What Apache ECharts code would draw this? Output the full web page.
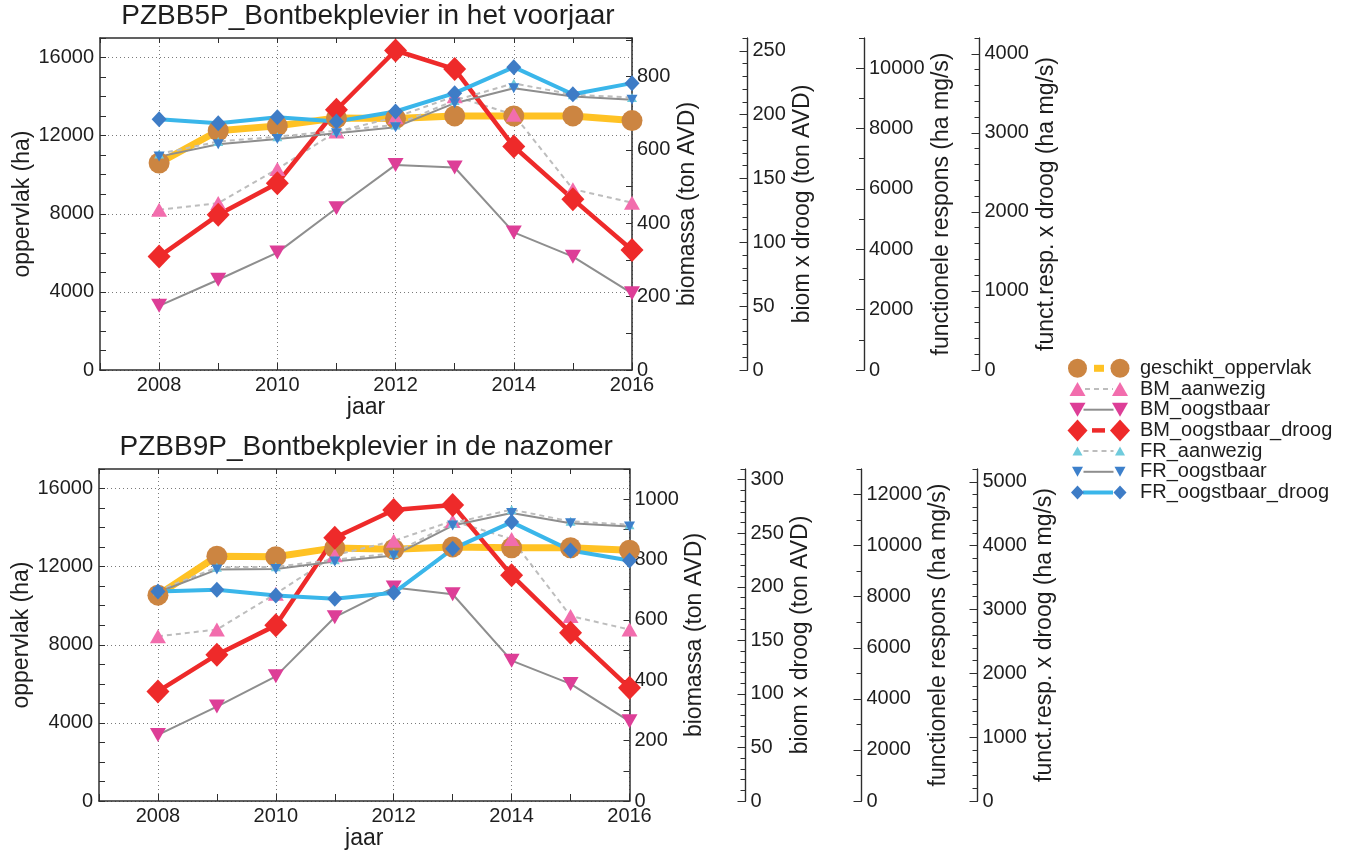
<!DOCTYPE html>
<html>
<head>
<meta charset="utf-8">
<title>Bontbekplevier</title>
<script src="https://cdn.jsdelivr.net/npm/echarts@6/dist/echarts.min.js"></script>
<style>
  html, body { margin: 0; padding: 0; background: #ffffff; }
  #chart { width: 1354px; height: 854px; }
</style>
</head>
<body>
<div id="chart"></div>
<script>
// ---- data ----------------------------------------------------------------
const years = [2008, 2009, 2010, 2011, 2012, 2013, 2014, 2015, 2016];
const seriesNames = ['geschikt_oppervlak', 'BM_aanwezig', 'BM_oogstbaar', 'BM_oogstbaar_droog',
                     'FR_aanwezig', 'FR_oogstbaar', 'FR_oogstbaar_droog'];
const panelTitles = ['PZBB5P_Bontbekplevier in het voorjaar', 'PZBB9P_Bontbekplevier in de nazomer'];

// voorjaar: oppervlak (ha), biomassa (ton AVD), biom x droog (ton AVD),
// functionele respons (ha mg/s), funct.resp. x droog (ha mg/s)
const vjGeschikt     = [10600, 12250, 12500, 12900, 12880, 13010, 13010, 13010, 12770];
const vjBMAanwezig   = [437, 455, 548, 650, 689, 746, 696, 493, 456];
const vjBMOogstbaar  = [175, 246, 320, 441, 559, 552, 375, 309, 209];
const vjBMDroog      = [88.8, 121.5, 146.3, 203.8, 250.2, 235.7, 175.0, 133.8, 94.0];
const vjFRAanwezig   = [7160, 7570, 7730, 7930, 8120, 8930, 9500, 9120, 9030];
const vjFROogstbaar  = [7070, 7480, 7650, 7845, 8045, 8840, 9337, 9060, 8950];
const vjFRDroog      = [3173, 3122, 3198, 3143, 3270, 3502, 3831, 3489, 3629];

// nazomer
const nzGeschikt     = [10540, 12530, 12510, 12960, 12890, 13010, 12970, 12970, 12840];
const nzBMAanwezig   = [546, 568, 687, 814, 862, 928, 868, 613, 568];
const nzBMOogstbaar  = [219, 313, 413, 609, 707, 685, 465, 388, 264];
const nzBMDroog      = [102.3, 136.6, 164.0, 245.8, 271.7, 276.3, 210.9, 157.2, 105.7];
const nzFRAanwezig   = [8230, 9150, 9170, 9450, 9700, 10880, 11410, 10950, 10820];
const nzFROogstbaar  = [8173, 9062, 9085, 9375, 9610, 10785, 11278, 10875, 10746];
const nzFRDroog      = [3282, 3307, 3219, 3166, 3260, 3950, 4368, 3925, 3768];

const panelData = [
  [vjGeschikt, vjBMAanwezig, vjBMOogstbaar, vjBMDroog, vjFRAanwezig, vjFROogstbaar, vjFRDroog],
  [nzGeschikt, nzBMAanwezig, nzBMOogstbaar, nzBMDroog, nzFRAanwezig, nzFROogstbaar, nzFRDroog]
];

// ---- styling ---------------------------------------------------------------
const FONT = "'Liberation Sans', Arial, Helvetica, sans-serif";
const INK = '#1e1e1e';
const AXIS = '#2e2e2e';
const GRIDDOT = '#7a7a7a';
const CLEAR = 'rgba(0,0,0,0)';

// marker / line look of every series (legend order)
const looks = [
  { symbol: 'circle',   size: 21,       rotate: 0,   mark: '#CC8541', line: '#FFC224', width: 7,   dash: 'solid', leg: [19, 16.5, 26.5] },
  { symbol: 'triangle', size: [16, 14], rotate: 0,   mark: '#F26DAD', line: '#BDBDBD', width: 2,   dash: [5, 4],  leg: [[16, 14], 7.5, 35.5] },
  { symbol: 'triangle', size: [16, 14], rotate: 180, mark: '#DD3E97', line: '#8E8E8E', width: 2,   dash: 'solid', leg: [[16, 14], 6, 36] },
  { symbol: 'diamond',  size: [23, 24], rotate: 0,   mark: '#EE2A2A', line: '#EE2A2A', width: 4.5, dash: 'solid', leg: [[20, 22], 14.5, 27.5] },
  { symbol: 'triangle', size: [10, 9],  rotate: 0,   mark: '#6FCBDC', line: '#BDBDBD', width: 2,   dash: [5, 4],  leg: [[10, 9], 6, 36] },
  { symbol: 'triangle', size: [11, 10], rotate: 180, mark: '#3D80CB', line: '#8E8E8E', width: 2,   dash: 'solid', leg: [[11, 10], 6, 36] },
  { symbol: 'diamond',  size: [15, 16], rotate: 0,   mark: '#3E7CC6', line: '#3AB6EA', width: 4,   dash: 'solid', leg: [[13, 14], 5.5, 35.5] }
];

// panel geometry and the top of every value scale
const panels = [
  { top: 38,  left: 100, width: 532,   titleTop: 2,   offs: [115.5, 232, 347.5],
    max: { opp: 17000, bio: 905,  bxd: 260, fr: 11000, frd: 4200 } },
  { top: 469, left: 99,  width: 530.5, titleTop: 433, offs: [116, 232, 348],
    max: { opp: 17000, bio: 1100, bxd: 310, fr: 13000, frd: 5200 } }
];
const PLOT_H = 332;

const labelStyle = { fontSize: 20, color: INK, fontFamily: FONT };
const nameStyle = { fontSize: 23, color: INK, fontFamily: FONT };
const dotted = [1, 3];

function multipleOf(step) {
  return v => (Math.abs(v / step - Math.round(v / step)) < 1e-6 ? String(Math.round(v)) : '');
}

// one offset axis drawn as a pair: short minor ticks + long labelled major ticks
function axisPair(grid, offset, max, major, minor, name, nameGap) {
  const base = {
    gridIndex: grid, type: 'value', position: 'right', offset: offset, min: 0, max: max,
    axisLine: { show: true, onZero: false, lineStyle: { color: AXIS, width: 1.2 } },
    splitLine: { show: false }
  };
  return [
    Object.assign({}, base, {
      interval: minor,
      axisTick: { show: true, inside: true, length: 5, lineStyle: { color: AXIS, width: 1 } },
      axisLabel: { show: false }
    }),
    Object.assign({}, base, {
      interval: major,
      axisTick: { show: true, inside: true, length: 8, lineStyle: { color: AXIS, width: 1 } },
      axisLabel: Object.assign({ show: true, showMaxLabel: false, margin: 5, formatter: multipleOf(major) }, labelStyle),
      name: name, nameLocation: 'middle', nameGap: nameGap, nameTextStyle: nameStyle
    })
  ];
}

const grids = [], xAxes = [], yAxes = [], series = [], titles = [];

panels.forEach((p, g) => {
  grids.push({ left: p.left, top: p.top, width: p.width, height: PLOT_H, containLabel: false });

  titles.push({
    text: panelTitles[g], left: p.left + (p.width / 2) + 2, top: p.titleTop, textAlign: 'center', padding: 0,
    textStyle: { fontSize: 28, fontWeight: 'normal', color: INK, fontFamily: FONT }
  });

  // year axis (bottom, labelled) and its mirror on top
  xAxes.push({
    gridIndex: g, type: 'value', position: 'bottom', min: 2007, max: 2016, interval: 1,
    axisLine: { show: true, onZero: false, lineStyle: { color: AXIS, width: 1.5 } },
    axisTick: { show: true, inside: true, length: 7, lineStyle: { color: AXIS } },
    axisLabel: Object.assign({ margin: 5, formatter: multipleOf(2) }, labelStyle),
    splitLine: { show: true, lineStyle: { color: [CLEAR, GRIDDOT], type: dotted, width: 1 } },
    name: 'jaar', nameLocation: 'middle', nameGap: 26, nameTextStyle: nameStyle
  });
  xAxes.push({
    gridIndex: g, type: 'value', position: 'top', min: 2007, max: 2016, interval: 1,
    axisLine: { show: true, onZero: false, lineStyle: { color: AXIS, width: 1.5 } },
    axisTick: { show: true, inside: true, length: 5, lineStyle: { color: AXIS } },
    axisLabel: { show: false }, splitLine: { show: false }
  });

  const y0 = yAxes.length;
  // oppervlak (left)
  yAxes.push({
    gridIndex: g, type: 'value', position: 'left', min: 0, max: p.max.opp, interval: 1000,
    axisLine: { show: true, onZero: false, lineStyle: { color: AXIS, width: 1.5 } },
    axisTick: { show: true, inside: true, length: 6, lineStyle: { color: AXIS } },
    axisLabel: Object.assign({ margin: 6, formatter: multipleOf(4000) }, labelStyle),
    splitLine: { show: true, lineStyle: { color: [GRIDDOT, CLEAR, CLEAR, CLEAR], type: dotted, width: 1 } },
    name: 'oppervlak (ha)', nameLocation: 'middle', nameGap: 62, nameTextStyle: nameStyle
  });
  // biomassa (right edge of the plot)
  yAxes.push({
    gridIndex: g, type: 'value', position: 'right', offset: 0, min: 0, max: p.max.bio, interval: 100,
    axisLine: { show: true, onZero: false, lineStyle: { color: AXIS, width: 1.5 } },
    axisTick: { show: true, inside: true, length: 6, lineStyle: { color: AXIS } },
    axisLabel: Object.assign({ margin: 5, formatter: multipleOf(200) }, labelStyle),
    splitLine: { show: false },
    name: 'biomassa (ton AVD)', nameLocation: 'middle', nameGap: 44, nameTextStyle: nameStyle
  });
  yAxes.push.apply(yAxes, axisPair(g, p.offs[0], p.max.bxd, 50, 10, 'biom x droog (ton AVD)', 44));
  yAxes.push.apply(yAxes, axisPair(g, p.offs[1], p.max.fr, 2000, 1000, 'functionele respons (ha mg/s)', 66));
  yAxes.push.apply(yAxes, axisPair(g, p.offs[2], p.max.frd, 1000, 200, 'funct.resp. x droog (ha mg/s)', 56));

  // which value axis each series is read against
  const axisOf = [y0, y0 + 1, y0 + 1, y0 + 3, y0 + 5, y0 + 5, y0 + 7];

  seriesNames.forEach((name, k) => {
    const lk = looks[k];
    series.push({
      name: name, type: 'line', xAxisIndex: g * 2, yAxisIndex: axisOf[k],
      data: years.map((yr, i) => [yr, panelData[g][k][i]]),
      symbol: lk.symbol, symbolSize: lk.size, symbolRotate: lk.rotate, showSymbol: true,
      itemStyle: { color: lk.mark, borderWidth: 0 },
      lineStyle: { color: lk.line, width: lk.width, type: lk.dash },
      clip: false, silent: true, animation: false,
      emphasis: { disabled: true }
    });
  });
});

// ---- legend: real legend text, keys drawn as marker-line-marker -------------
const LEG_TEXT_X = 1139, LEG_Y0 = 368.3, LEG_STEP = 20.7, LEG_KEY_A = 1077.5, LEG_KEY_B = 1120;

function markerShape(lk, cx, cy) {
  const sz = lk.leg[0];
  if (lk.symbol === 'circle') {
    return { type: 'circle', shape: { cx: cx, cy: cy, r: sz / 2 }, style: { fill: lk.mark } };
  }
  const w = sz[0], h = sz[1];
  let pts;
  if (lk.symbol === 'diamond') {
    pts = [[cx, cy - h / 2], [cx + w / 2, cy], [cx, cy + h / 2], [cx - w / 2, cy]];
  } else if (lk.rotate === 180) {
    pts = [[cx - w / 2, cy - h / 2], [cx + w / 2, cy - h / 2], [cx, cy + h / 2]];
  } else {
    pts = [[cx - w / 2, cy + h / 2], [cx + w / 2, cy + h / 2], [cx, cy - h / 2]];
  }
  return { type: 'polygon', shape: { points: pts }, style: { fill: lk.mark } };
}

const legendKeys = [];
looks.forEach((lk, k) => {
  const cy = LEG_Y0 + k * LEG_STEP;
  legendKeys.push({
    type: 'line', silent: true,
    shape: { x1: LEG_KEY_A + lk.leg[1], y1: cy, x2: LEG_KEY_A + lk.leg[2], y2: cy },
    style: { stroke: lk.line, lineWidth: lk.width, lineDash: Array.isArray(lk.dash) ? lk.dash : null }
  });
  legendKeys.push(Object.assign({ silent: true }, markerShape(lk, LEG_KEY_A, cy)));
  legendKeys.push(Object.assign({ silent: true }, markerShape(lk, LEG_KEY_B, cy)));
});

const chart = echarts.init(document.getElementById('chart'));
chart.setOption({
  backgroundColor: '#ffffff',
  animation: false,
  title: titles,
  grid: grids,
  xAxis: xAxes,
  yAxis: yAxes,
  series: series,
  legend: {
    orient: 'vertical', left: LEG_TEXT_X - 65, top: LEG_Y0 - 10,
    itemWidth: 60, itemHeight: 20, itemGap: LEG_STEP - 20, padding: 0,
    selectedMode: false, data: seriesNames,
    itemStyle: { opacity: 0 }, lineStyle: { opacity: 0 },
    textStyle: { fontSize: 20, color: INK, fontFamily: FONT, lineHeight: 20 }
  },
  graphic: legendKeys
});
</script>
</body>
</html>
